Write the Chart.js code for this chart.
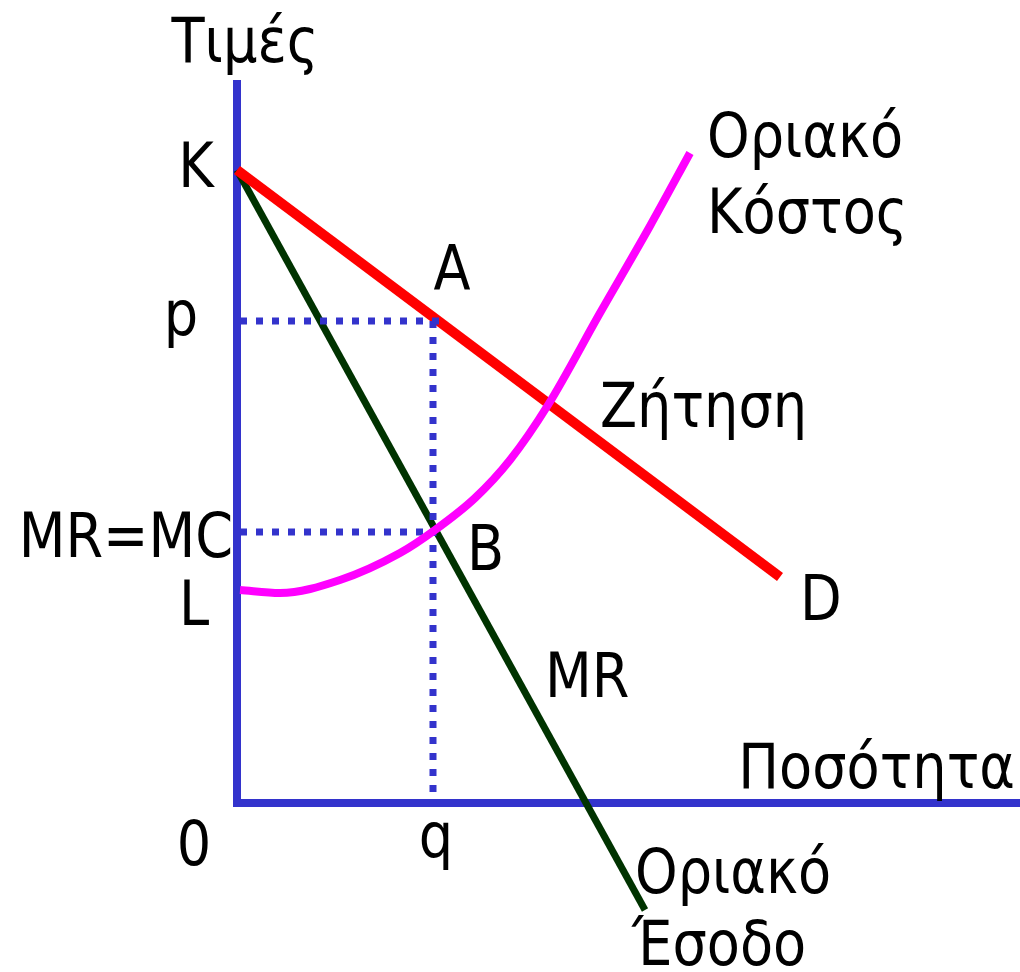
<!DOCTYPE html>
<html>
<head>
<meta charset="utf-8">
<script src="https://cdn.jsdelivr.net/npm/chart.js@4.4.0/dist/chart.umd.min.js"></script>
<style>
  html, body { margin: 0; padding: 0; background: #fff; }
  canvas { display: block; }
</style>
</head>
<body>
<canvas id="monopoly" width="1020" height="972"></canvas>
<script>
// Values (quantity on x, price on y, origin at 0)
const axisX = [[-0.04, 0], [7.83, 0]];
const axisY = [[0, -0.04], [0, 7.23]];

// Demand (Ζήτηση) from K to D
const demandQ = [0, 5.43];
const demandP = [6.33, 2.26];

// Marginal revenue (Οριακό Έσοδο)
const mrQ = [0, 4.08];
const mrP = [6.33, -1.07];

// Marginal cost (Οριακό Κόστος)
const mcQ = [0.03, 0.43, 1.03, 1.63, 1.98, 2.38, 2.73, 3.11, 3.63, 4.13, 4.53];
const mcP = [2.13, 2.10, 2.23, 2.50, 2.73, 3.05, 3.43, 3.98, 4.90, 5.77, 6.50];

// Equilibrium levels
const qStar = 1.96;
const pStar = 4.82;
const mrmcLevel = 2.71;

// Text labels: [text, x, y, align]
const labels = [
    ['Τιμές', 0.08, 7.41, 'center'],
    ['K', -0.41, 6.16, 'center'],
    ['p', -0.56, 4.68, 'center'],
    ['A', 2.15, 5.13, 'center'],
    ['Ζήτηση', 3.63, 3.76, 'left'],
    ['Οριακό', 4.70, 6.46, 'left'],
    ['Κόστος', 4.70, 5.70, 'left'],
    ['MR=MC', -0.04, 2.46, 'right'],
    ['L', -0.43, 1.78, 'center'],
    ['B', 2.30, 2.33, 'left'],
    ['D', 5.63, 1.83, 'left'],
    ['MR', 3.08, 1.06, 'left'],
    ['Ποσότητα', 7.78, 0.15, 'right'],
    ['0', -0.43, -0.62, 'center'],
    ['q', 1.99, -0.54, 'center'],
    ['Οριακό', 3.98, -0.90, 'left'],
    ['Έσοδο', 3.95, -1.62, 'left']
];

function toPoints(xs, ys) {
    return xs.map((x, i) => ({ x: x, y: ys[i] }));
}

const blue = '#3333CC';

// Plugin that writes the text labels at data positions
const labelPlugin = {
    id: 'labels',
    afterDatasetsDraw(chart) {
        const ctx = chart.ctx;
        const xs = chart.scales.x;
        const ys = chart.scales.y;
        ctx.save();
        ctx.fillStyle = '#000';
        ctx.font = "63px 'DejaVu Sans'";
        ctx.textBaseline = 'alphabetic';
        labels.forEach(l => {
            ctx.save();
            ctx.translate(xs.getPixelForValue(l[1]), ys.getPixelForValue(l[2]));
            // narrower, Tahoma-like letters
            ctx.scale(0.86, 1);
            ctx.textAlign = l[3];
            ctx.fillText(l[0], 0, 0);
            ctx.restore();
        });
        ctx.restore();
    }
};

const lineDefaults = {
    showLine: true,
    pointRadius: 0,
    fill: false,
    clip: false,
    borderCapStyle: 'butt'
};

new Chart(document.getElementById('monopoly'), {
    type: 'scatter',
    data: {
        datasets: [
            // Axes
            Object.assign({}, lineDefaults, {
                data: axisX.map(p => ({ x: p[0], y: p[1] })),
                borderColor: blue, borderWidth: 8, order: 7
            }),
            Object.assign({}, lineDefaults, {
                data: axisY.map(p => ({ x: p[0], y: p[1] })),
                borderColor: blue, borderWidth: 8, order: 7
            }),
            // Marginal revenue
            Object.assign({}, lineDefaults, {
                data: toPoints(mrQ, mrP),
                borderColor: '#003300', borderWidth: 7, order: 6
            }),
            // Demand
            Object.assign({}, lineDefaults, {
                data: toPoints(demandQ, demandP),
                borderColor: '#FF0000', borderWidth: 10, order: 5
            }),
            // Dotted guides
            Object.assign({}, lineDefaults, {
                data: [{ x: 0.03, y: pStar }, { x: qStar + 0.14, y: pStar }],
                borderColor: blue, borderWidth: 7, borderDash: [7, 9], order: 4
            }),
            Object.assign({}, lineDefaults, {
                data: [{ x: qStar, y: pStar }, { x: qStar, y: 0 }],
                borderColor: blue, borderWidth: 7, borderDash: [7, 9], order: 4
            }),
            Object.assign({}, lineDefaults, {
                data: [{ x: 0.03, y: mrmcLevel }, { x: qStar, y: mrmcLevel }],
                borderColor: blue, borderWidth: 7, borderDash: [7, 9], order: 4
            }),
            // Marginal cost
            Object.assign({}, lineDefaults, {
                data: toPoints(mcQ, mcP),
                borderColor: '#FF00FF', borderWidth: 8,
                cubicInterpolationMode: 'monotone', order: 3
            })
        ]
    },
    options: {
        responsive: false,
        animation: false,
        devicePixelRatio: 1,
        layout: { padding: 0 },
        plugins: {
            legend: { display: false },
            tooltip: { enabled: false }
        },
        scales: {
            x: { type: 'linear', min: -2.37, max: 7.83, display: false },
            y: { type: 'linear', min: -1.69, max: 8.03, display: false }
        }
    },
    plugins: [labelPlugin]
});
</script>
</body>
</html>
